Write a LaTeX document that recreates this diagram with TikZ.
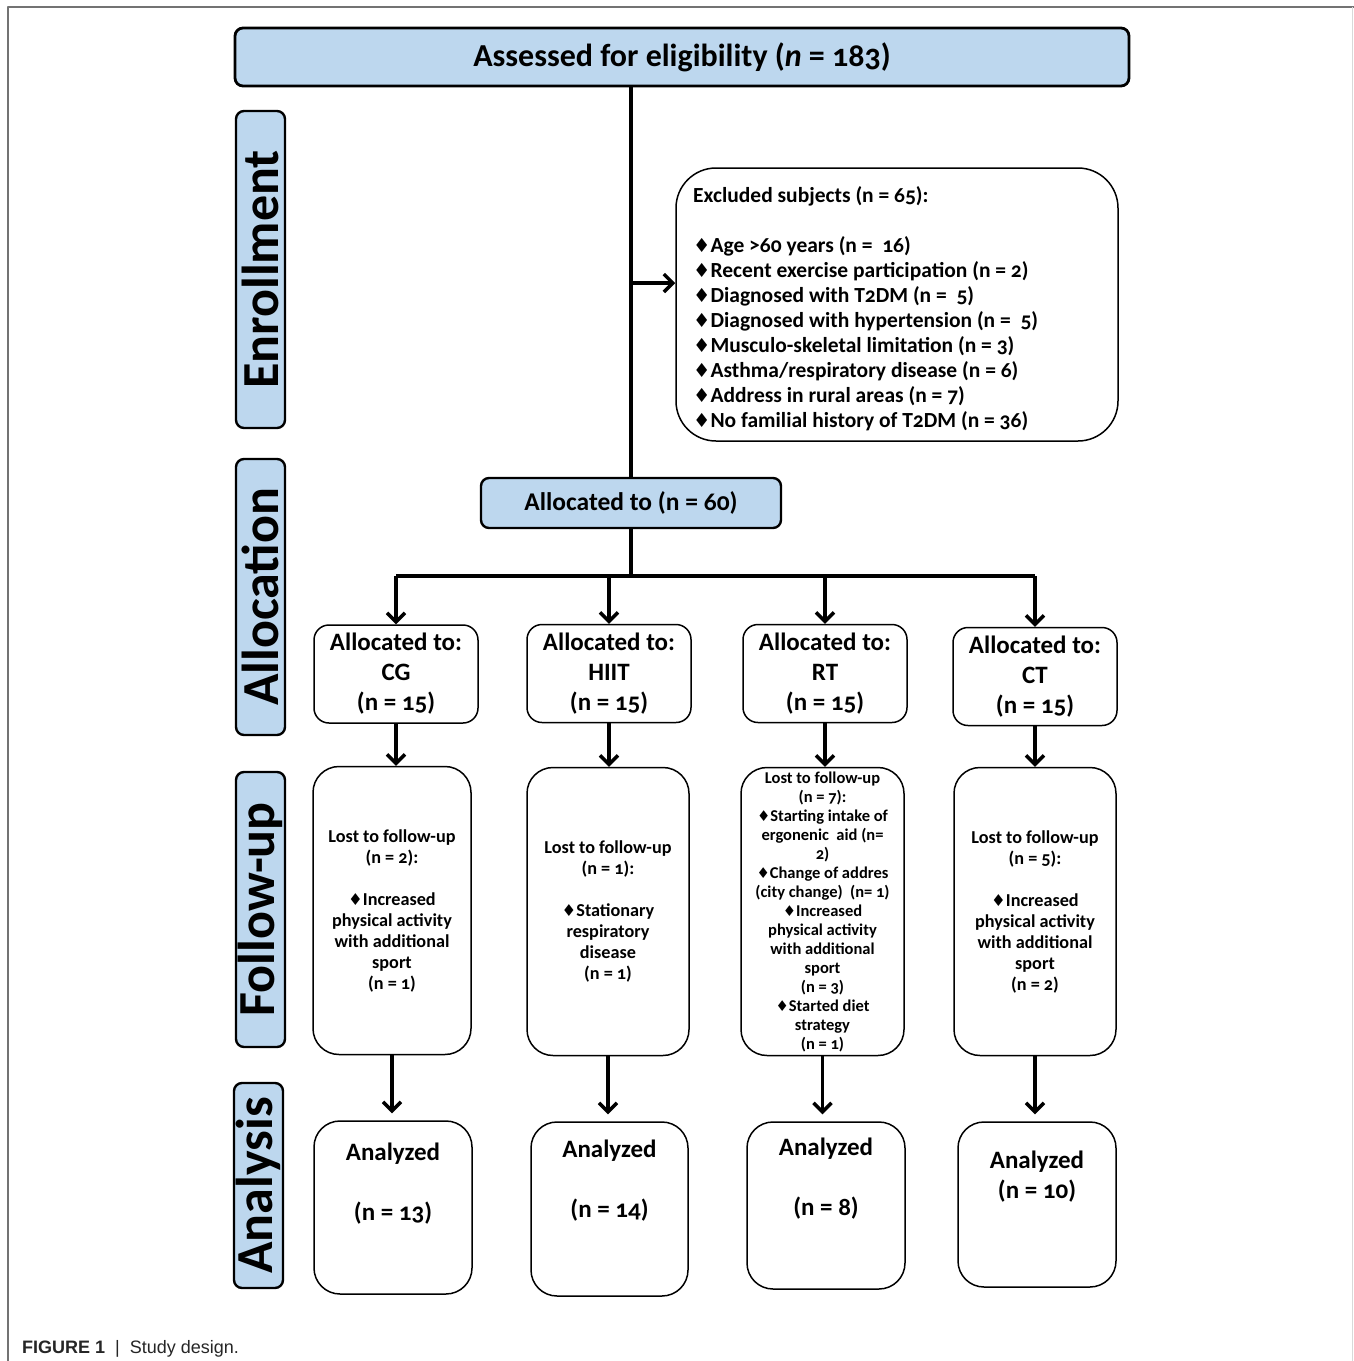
\documentclass[tikz,border=0pt]{standalone}
\usepackage{fontspec}
\setmainfont{Carlito}[Numbers=OldStyle]
\newfontfamily\capfont{Liberation Sans}
\newfontfamily\symfont{DejaVu Sans}
\usetikzlibrary{arrows.meta}
\definecolor{boxblue}{RGB}{189,215,238}
\newcommand\dia{{\symfont\scalebox{0.9}{♦}}}
\begin{document}
\begin{tikzpicture}[x=1pt,y=-1pt,line join=round,
  bluebox/.style={draw, fill=boxblue, rounded corners=8pt, line width=2.8pt, inner sep=0pt},
  sidebox/.style={draw, fill=boxblue, rounded corners=8pt, line width=2.4pt, rotate=90,
    minimum height=49pt, inner sep=0pt, font=\bfseries\fontsize{52}{52}\selectfont},
  grpbox/.style={draw, fill=white, line width=1.5pt, inner sep=0pt, align=center},
  alcbox/.style={grpbox, rounded corners=15pt, minimum width=164pt, minimum height=98pt,
    font=\bfseries\fontsize{25}{30}\selectfont},
  fupbox/.style={grpbox, rounded corners=26pt, minimum height=288pt,
    font=\bfseries\fontsize{18.2}{21}\selectfont},
  anbox/.style={grpbox, rounded corners=26pt, minimum width=158pt},
  antext/.style={align=center, font=\bfseries\fontsize{25}{30}\selectfont},
  conn/.style={line width=3.5pt},
  arr/.style={conn, -{Straight Barb[length=9pt,width=18pt]}}]
\useasboundingbox (0,0) rectangle (1354,1361);
\fill[white] (0,0) rectangle (1354,1361);
% frame
\draw[black!55, line width=1.2pt] (8,1361) -- (8,7) -- (1354,7);
\draw[black!15, line width=1pt] (1352,7) -- (1352,1361);

% top box
\node[bluebox, minimum width=894pt, minimum height=58pt,
  font=\bfseries\fontsize{32}{34}\selectfont] (top) at (682,57)
  {Assessed for eligibility (\textit{n} = 183)};

% side labels
\node[sidebox, minimum width=317pt] (enr) at (260.5,269.5) {Enrollment};
\node[sidebox, minimum width=276pt] (all) at (260.5,597) {Allocation};
\node[sidebox, minimum width=275pt] (fol) at (260.5,909.5) {Follow-up};
\node[sidebox, minimum width=205pt] (ana) at (258.5,1185.5) {Analysis};

% excluded box
\node[grpbox, rounded corners=40pt, minimum width=442pt, minimum height=273pt] (exc) at (897,304.5) {};
\node[anchor=north west, align=left, inner sep=0pt,
  font=\bfseries\fontsize{21.5}{25}\selectfont] (exct) at (693,186)
  {Excluded subjects (n = 65):\\[25pt]
   \dia Age >60 years (n =\ \ 16)\\
   \dia Recent exercise participation (n = 2)\\
   \dia Diagnosed with T2DM (n =\ \ 5)\\
   \dia Diagnosed with hypertension (n =\ \ 5)\\
   \dia Musculo-skeletal limitation (n = 3)\\
   \dia Asthma/respiratory disease (n = 6)\\
   \dia Address in rural areas (n = 7)\\
   \dia No familial history of T2DM (n = 36)};

% allocated
\node[bluebox, line width=2.4pt, minimum width=300pt, minimum height=50pt,
  font=\bfseries\fontsize{25.5}{27}\selectfont] (alc) at (631,503) {Allocated to (n = 60)};

% group allocation boxes
\node[alcbox] (a1) at (396,674) {Allocated to:\\CG\\(n = 15)};
\node[alcbox] (a2) at (609,673.5) {Allocated to:\\HIIT\\(n = 15)};
\node[alcbox] (a3) at (825,673.5) {Allocated to:\\RT\\(n = 15)};
\node[alcbox] (a4) at (1035,676.5) {Allocated to:\\CT\\(n = 15)};

% follow-up boxes
\node[fupbox, minimum width=158pt] (f1) at (392,910.5)
  {Lost to follow-up\\(n = 2):\\[21pt]\dia Increased\\physical activity\\with additional\\sport\\(n = 1)};
\node[fupbox, minimum width=162pt] (f2) at (608,911.5)
  {Lost to follow-up\\(n = 1):\\[21pt]\dia Stationary\\respiratory\\disease\\(n = 1)};
\node[fupbox, minimum width=163pt, font=\bfseries\fontsize{16.5}{19}\selectfont] (f3) at (822.5,911.5)
  {Lost to follow-up\\(n = 7):\\\dia Starting intake of\\ergonenic\ \ aid (n=\\2)\\\dia Change of addres\\(city change)\ \ (n= 1)\\\dia Increased\\physical activity\\with additional\\sport\\(n = 3)\\\dia Started diet\\strategy\\(n = 1)};
\node[fupbox, minimum width=162pt] (f4) at (1035,911.5)
  {Lost to follow-up\\(n = 5):\\[21pt]\dia Increased\\physical activity\\with additional\\sport\\(n = 2)};

% analysis boxes
\node[anbox, minimum height=173pt] (n1) at (393,1207.5) {};
\node[anbox, minimum width=157pt, minimum height=174pt] (n2) at (609.5,1209) {};
\node[anbox, minimum height=167pt] (n3) at (826,1205.5) {};
\node[anbox, minimum height=165pt] (n4) at (1037,1204.5) {};
\node[antext, anchor=north] (t1) at (393,1139) {Analyzed\\[30pt](n = 13)};
\node[antext, anchor=north] (t2) at (609.5,1136) {Analyzed\\[30pt](n = 14)};
\node[antext, anchor=north] (t3) at (826,1134) {Analyzed\\[30pt](n = 8)};
\node[antext, anchor=north] (t4) at (1037,1147) {Analyzed\\(n = 10)};

% connectors
\coordinate (jx) at (631,283);
\coordinate (bus) at (631,576);
\draw[conn] (alc.north |- top.south) -- (alc.north);
\draw[arr] (jx) -- (jx -| exc.west);
\draw[conn] (alc.south) -- (bus);
\draw[conn] (a1.north |- bus) -- (a4.north |- bus);
\foreach \b in {a1,a2,a3,a4}{
  \draw[arr] (\b.north |- bus) -- (\b.north);
}
\draw[arr] (a1.south) -- (a1.south |- f1.north);
\draw[arr] (a2.south) -- (a2.south |- f2.north);
\draw[arr] (a3.south) -- (a3.south |- f3.north);
\draw[arr] (a4.south) -- (a4.south |- f4.north);
\draw[arr, shorten >=7pt] (f1.south) -- (f1.south |- n1.north);
\draw[arr, shorten >=7pt] (f2.south) -- (f2.south |- n2.north);
\draw[arr, shorten >=7pt] (f3.south) -- (f3.south |- n3.north);
\draw[arr, shorten >=7pt] (f4.south) -- (f4.south |- n4.north);

% caption
\node[anchor=base west, inner sep=0pt, text=black!85,
  font=\capfont\fontsize{18}{20}\selectfont] (cap) at (22,1353)
  {\textbf{FIGURE 1}\ \ |\ \ Study design.};
\end{tikzpicture}
\end{document}
